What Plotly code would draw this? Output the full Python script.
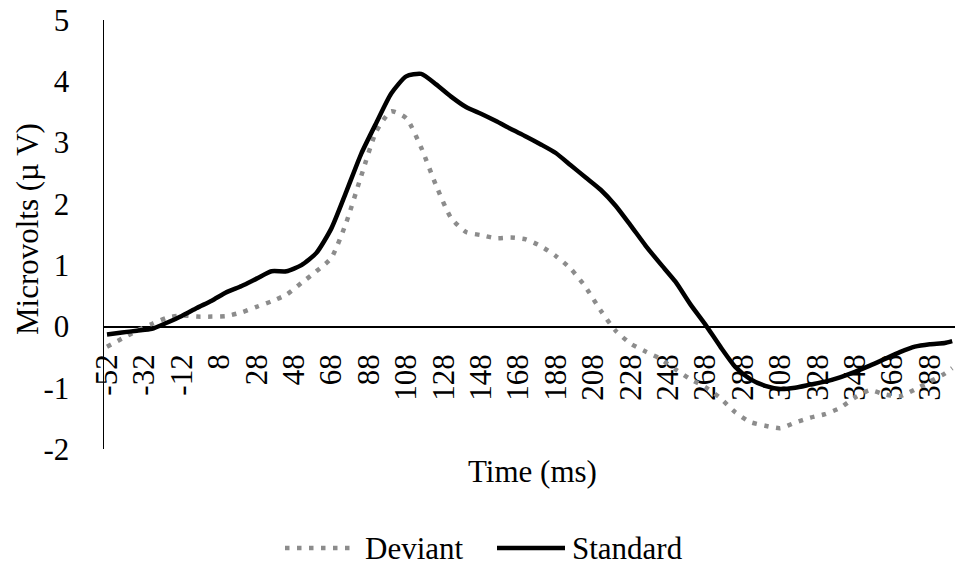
import plotly.graph_objects as go

# Time points (ms)
time_ms = [-52, -44, -36, -28, -20, -12, -4, 4, 12, 20, 28, 36, 44, 52, 60, 68, 76, 84, 92, 100,
           108, 116, 124, 132, 140, 148, 156, 164, 172, 180, 188, 196, 204, 212, 220, 228, 236,
           244, 252, 260, 268, 276, 284, 292, 300, 308, 316, 324, 332, 340, 348, 356, 364, 372,
           380, 388, 396, 400]

deviant = [-0.33, -0.20, -0.07, 0.04, 0.14, 0.18, 0.16, 0.16, 0.17, 0.23, 0.32, 0.41, 0.52, 0.71,
           0.90, 1.12, 1.70, 2.46, 3.18, 3.51, 3.40, 2.92, 2.30, 1.77, 1.54, 1.49, 1.44, 1.45,
           1.42, 1.31, 1.15, 0.94, 0.64, 0.26, -0.07, -0.28, -0.41, -0.53, -0.70, -0.86, -0.99,
           -1.17, -1.40, -1.56, -1.62, -1.66, -1.57, -1.49, -1.43, -1.33, -1.16, -1.04, -1.11,
           -1.14, -1.03, -0.90, -0.77, -0.68]

standard = [-0.13, -0.10, -0.07, -0.04, 0.06, 0.17, 0.30, 0.42, 0.56, 0.66, 0.78, 0.90, 0.90, 1.00,
            1.20, 1.60, 2.20, 2.82, 3.32, 3.80, 4.08, 4.12, 3.95, 3.75, 3.58, 3.47, 3.35, 3.22,
            3.10, 2.97, 2.83, 2.63, 2.43, 2.23, 1.97, 1.65, 1.32, 1.02, 0.73, 0.36, 0.03, -0.33,
            -0.66, -0.86, -0.97, -1.02, -1.00, -0.95, -0.90, -0.83, -0.74, -0.64, -0.53, -0.42,
            -0.33, -0.29, -0.27, -0.24]

series_names = ["Deviant", "Standard"]
tick_vals = list(range(-52, 389, 20))
tick_text = [str(v) for v in tick_vals]
y_ticks = [-2, -1, 0, 1, 2, 3, 4, 5]
y_tick_text = [str(v) for v in y_ticks]

FONT = "Liberation Serif, Times New Roman, serif"
FS = 31
GRAY = "#8c8c8c"
DOT = "4.5px,7.5px"

# plot-area geometry (px) used to place titles / legend
PX_L, PX_R, PX_T, PX_B = 104, 955, 20, 449
W, H = 955, 567
def px(x):
    return (x - PX_L) / (PX_R - PX_L)
def py(y):
    return (PX_B - y) / (PX_B - PX_T)

fig = go.Figure()
fig.add_trace(go.Scatter(
    x=time_ms, y=deviant, name=series_names[0], mode="lines", showlegend=False,
    line=dict(color=GRAY, width=4.5, dash=DOT, shape="spline", smoothing=0.6),
))
fig.add_trace(go.Scatter(
    x=time_ms, y=standard, name=series_names[1], mode="lines", showlegend=False,
    line=dict(color="#000000", width=4.5, shape="spline", smoothing=0.6),
))

leg_y = py(548)
shapes = [
    dict(type="line", xref="paper", yref="paper", x0=px(285), x1=px(352), y0=leg_y, y1=leg_y,
         line=dict(color=GRAY, width=4.5, dash=DOT)),
    dict(type="line", xref="paper", yref="paper", x0=px(497), x1=px(565), y0=leg_y, y1=leg_y,
         line=dict(color="black", width=4.5)),
]

annotations = [
    dict(text="Microvolts (µ V)", textangle=-90, xref="paper", yref="paper",
         x=px(27), y=py(229), xanchor="center", yanchor="middle",
         showarrow=False, font=dict(family=FONT, size=FS, color="black")),
    dict(text="Time (ms)", xref="paper", yref="paper",
         x=px(532), y=py(471), xanchor="center", yanchor="middle",
         showarrow=False, font=dict(family=FONT, size=FS, color="black")),
    dict(text=series_names[0], xref="paper", yref="paper", x=px(363), y=leg_y,
         xanchor="left", yanchor="middle", showarrow=False,
         font=dict(family=FONT, size=FS, color="black")),
    dict(text=series_names[1], xref="paper", yref="paper", x=px(570), y=leg_y,
         xanchor="left", yanchor="middle", showarrow=False,
         font=dict(family=FONT, size=FS, color="black")),
]

fig.update_layout(
    width=W, height=H,
    margin=dict(l=PX_L, r=W - PX_R, t=PX_T, b=H - PX_B, pad=0),
    paper_bgcolor="white", plot_bgcolor="white",
    font=dict(family=FONT, size=FS, color="black"),
    showlegend=False,
    hovermode=False,
    xaxis=dict(
        range=[-53.6, 401.5], tickmode="array", tickvals=tick_vals, ticktext=tick_text,
        tickangle=-90, showgrid=False, zeroline=False, showline=True,
        linecolor="black", linewidth=1.5, anchor="free", position=2 / 7,
        ticks="", ticklabelstandoff=14, layer="below traces", ticklabeloverflow="allow",
        tickfont=dict(family=FONT, size=FS, color="black"),
    ),
    yaxis=dict(
        range=[-2, 5], tickmode="array", tickvals=y_ticks, ticktext=y_tick_text,
        showgrid=False, zeroline=False, ticklabeloverflow="allow",
        showline=True, linecolor="black", linewidth=1.5, ticks="",
        ticklabelstandoff=27, tickfont=dict(family=FONT, size=FS, color="black"), domain=[0, 1],
    ),
    shapes=shapes,
    annotations=annotations,
)

# remove the browser's default 8px body margin so the figure fills the window exactly
fig.write_html(
    "out.html",
    config={"displayModeBar": False, "staticPlot": True},
    post_script="document.body.style.margin='0';document.body.style.overflow='hidden';",
)
